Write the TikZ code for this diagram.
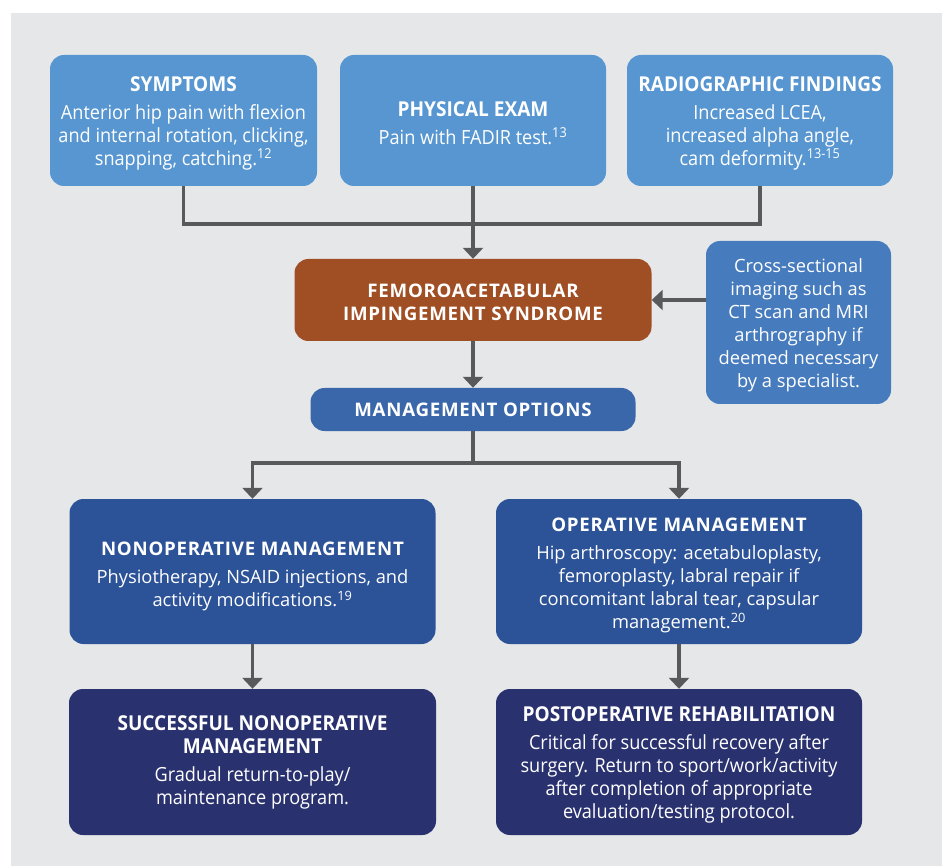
\documentclass[tikz,border=0pt]{standalone}
\usepackage{fontspec}
\usetikzlibrary{arrows.meta}
\setmainfont{Open Sans}
\newfontfamily\stretto[FakeStretch=0.93]{Open Sans}
\newfontfamily\titolo[LetterSpace=4]{Open Sans}
\definecolor{sfondo}{HTML}{E6E7E8}
\definecolor{celeste}{HTML}{5796D0}
\definecolor{azzurro}{HTML}{467BBE}
\definecolor{ruggine}{HTML}{A04E24}
\definecolor{bluopz}{HTML}{3A66AA}
\definecolor{blumed}{HTML}{2C5298}
\definecolor{blunotte}{HTML}{29316F}
\definecolor{grigio}{HTML}{58595B}
\newcommand{\testo}{\fontsize{18.3}{23}\selectfont}
\newcommand{\testostr}{\stretto\fontsize{19.5}{23}\selectfont}
\newcommand{\capo}{\titolo\bfseries\fontsize{18.7}{23}\selectfont}
\newcommand{\capostr}{\stretto\bfseries\fontsize{20.5}{23}\selectfont}
\newcommand{\alza}[1]{\rule{0pt}{#1}}
\begin{document}
\begin{tikzpicture}[
    x=1pt, y=-1pt,
    riquadro/.style={rounded corners=14pt, text=white, align=center, inner sep=0pt,
                     font=\testo},
    linea/.style={draw=grigio, line width=3.5pt, line join=miter},
    freccia/.style={linea, -{Triangle[width=20pt, length=11pt]}}
]

    % 1. Sfondo e dimensioni
    \useasboundingbox (0,0) rectangle (945,866);
    \fill[sfondo] (11,13) rectangle (942,866);

    % 2. Riquadri in alto
    \node[riquadro, fill=celeste, minimum width=267pt, minimum height=131pt] (sym) at (183.5,120.5)
        {\alza{21pt}{\capostr SYMPTOMS}\\[5pt]
         \testostr Anterior hip pain with flexion\\
         \testostr and internal rotation, clicking,\\
         \testostr snapping, catching.\textsuperscript{12}};
    \node[riquadro, fill=celeste, minimum width=266pt, minimum height=131pt] (phys) at (473,120.5)
        {\alza{21pt}{\capostr PHYSICAL EXAM}\\[5pt]
         \testostr Pain with FADIR test.\textsuperscript{13}};
    \node[riquadro, fill=celeste, minimum width=266pt, minimum height=131pt] (rad) at (760,120.5)
        {\alza{21pt}{\capostr RADIOGRAPHIC FINDINGS}\\[5pt]
         \testostr Increased LCEA,\\
         \testostr increased alpha angle,\\
         \testostr cam deformity.\textsuperscript{13-15}};

    % 3. Diagnosi e imaging
    \node[riquadro, fill=ruggine, minimum width=357pt, minimum height=82pt] (fai) at (473,300)
        {\alza{19pt}\capo FEMOROACETABULAR\\ \capo IMPINGEMENT SYNDROME};
    \node[riquadro, fill=azzurro, minimum width=185pt, minimum height=163pt] (cross) at (798.5,322.5)
        {\alza{19pt}Cross-sectional\\ imaging such as\\ CT scan and MRI\\ arthrography if\\ deemed necessary\\ by a specialist.};
    \node[riquadro, fill=bluopz, minimum width=325pt, minimum height=43pt] (mo) at (473,409.5)
        {\capo MANAGEMENT OPTIONS};

    % 4. Gestione
    \node[riquadro, fill=blumed, minimum width=366pt, minimum height=145pt] (nonop) at (252.5,571.5)
        {\alza{23pt}{\capo NONOPERATIVE MANAGEMENT}\\[5pt]
         Physiotherapy, NSAID injections, and\\
         activity modifications.\textsuperscript{19}};
    \node[riquadro, fill=blumed, minimum width=366pt, minimum height=145pt] (op) at (679,571.5)
        {\alza{22pt}{\capo OPERATIVE MANAGEMENT}\\[5pt]
         Hip arthroscopy: acetabuloplasty,\\
         femoroplasty, labral repair if\\
         concomitant labral tear, capsular\\
         management.\textsuperscript{20}};

    % 5. Esiti
    \node[riquadro, fill=blunotte, minimum width=367pt, minimum height=146pt] (succ) at (252.5,762)
        {{\capostr SUCCESSFUL NONOPERATIVE}\\
         {\capostr MANAGEMENT}\\[5pt]
         \testostr Gradual return-to-play/\\
         \testostr maintenance program.};
    \node[riquadro, fill=blunotte, minimum width=366pt, minimum height=146pt] (post) at (679,762)
        {\alza{21pt}{\capostr POSTOPERATIVE REHABILITATION}\\[5pt]
         \testostr Critical for successful recovery after\\
         \testostr surgery. Return to sport/work/activity\\
         \testostr after completion of appropriate\\
         \testostr evaluation/testing protocol.};

    % 6. Collegamenti
    \coordinate (g1) at (473,224);
    \coordinate (g2) at (473,463);
    \draw[linea] (sym.south) |- (g1) -| (rad.south);
    \draw[freccia] (phys.south) -- (fai.north);
    \draw[freccia] (cross.west |- fai.east) -- (fai.east);
    \draw[freccia] (fai.south) -- (mo.north);
    \draw[linea] (mo.south) -- (g2);
    \draw[freccia] (g2) -| (nonop.north);
    \draw[freccia] (g2) -| (op.north);
    \draw[freccia] (nonop.south) -- (succ.north);
    \draw[freccia] (op.south) -- (post.north);

\end{tikzpicture}
\end{document}
